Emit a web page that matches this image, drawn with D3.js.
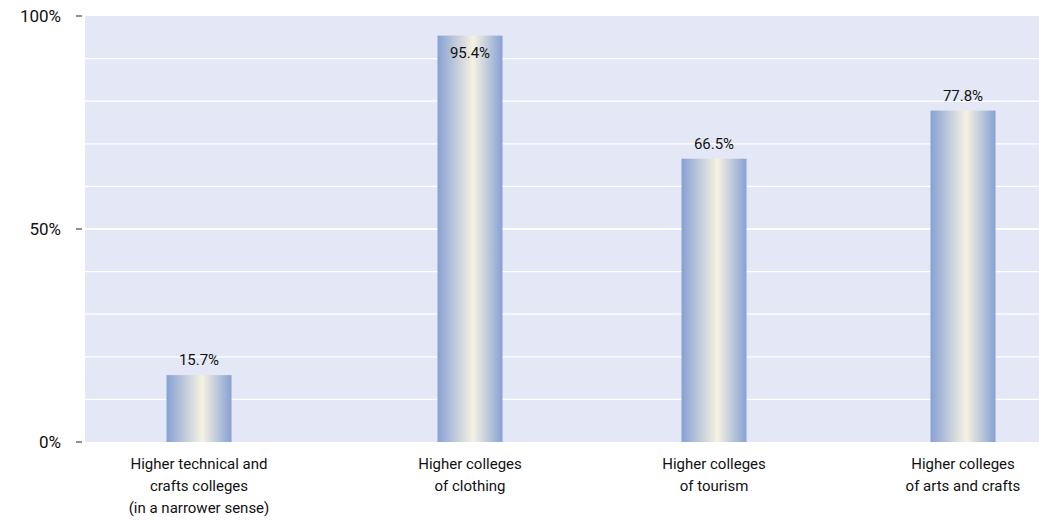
<!DOCTYPE html>
<html><head><meta charset="utf-8">
<script src="https://cdn.jsdelivr.net/npm/d3@7"></script>
<style>body{margin:0;background:#fff}text{font-family:Roboto,"Liberation Sans",sans-serif;fill:#111}</style>
</head><body><div id="chart"></div>
<script>
const categories = [
  ["Higher technical and", "crafts colleges", "(in a narrower sense)"],
  ["Higher colleges", "of clothing"],
  ["Higher colleges", "of tourism"],
  ["Higher colleges", "of arts and crafts"]
];
const values = [15.7, 95.4, 66.5, 77.8];
const yTicks = [0, 50, 100];

const W = 1039, H = 526;
const margin = {top: 16, right: 0, bottom: 84, left: 85};
const width = W - margin.left - margin.right;
const height = H - margin.top - margin.bottom;

const svg = d3.select("#chart").append("svg").attr("width", W).attr("height", H);
const defs = svg.append("defs");
const grad = defs.append("linearGradient").attr("id", "barGrad").attr("x1", "0%").attr("x2", "100%");
grad.append("stop").attr("offset", "0%").attr("stop-color", "#87a1d4");
grad.append("stop").attr("offset", "55%").attr("stop-color", "#f6f2e2");
grad.append("stop").attr("offset", "100%").attr("stop-color", "#87a1d4");

const g = svg.append("g").attr("transform", `translate(${margin.left},${margin.top})`);
const y = d3.scaleLinear().domain([0, 100]).range([height, 0]);
const centers = [114, 385, 629, 878];

g.append("rect").attr("width", width).attr("height", height).attr("fill", "#e4e8f6");
g.selectAll(".grid").data(d3.range(10, 100, 10)).join("line")
  .attr("x1", 0).attr("x2", width).attr("y1", d => y(d)).attr("y2", d => y(d))
  .attr("stroke", "#fff").attr("stroke-width", d => d === 50 ? 2 : 1.2);

g.selectAll(".tick").data(yTicks).join("line")
  .attr("x1", -9).attr("x2", -3).attr("y1", d => y(d)).attr("y2", d => y(d)).attr("stroke", "#222");
g.selectAll(".tl").data(yTicks).join("text")
  .attr("x", -24).attr("y", d => y(d)).attr("dy", "0.35em").attr("text-anchor", "end")
  .attr("font-size", 17).text(d => d + "%");

const bw = 65;
g.selectAll(".bar").data(values).join("rect")
  .attr("x", (d, i) => centers[i] - bw / 2).attr("width", bw)
  .attr("y", d => y(d)).attr("height", d => height - y(d)).attr("fill", "url(#barGrad)");
g.selectAll(".vl").data(values).join("text")
  .attr("x", (d, i) => centers[i]).attr("y", d => d > 90 ? y(d) + 22 : y(d) - 10)
  .attr("text-anchor", "middle").attr("font-size", 15).text(d => d.toFixed(1) + "%");

categories.forEach((lines, i) => {
  const t = g.append("text").attr("text-anchor", "middle").attr("font-size", 15)
    .attr("x", centers[i]).attr("y", height + 27);
  lines.forEach((l, j) => t.append("tspan").attr("x", centers[i]).attr("dy", j ? 22 : 0).text(l));
});
</script></body></html>
